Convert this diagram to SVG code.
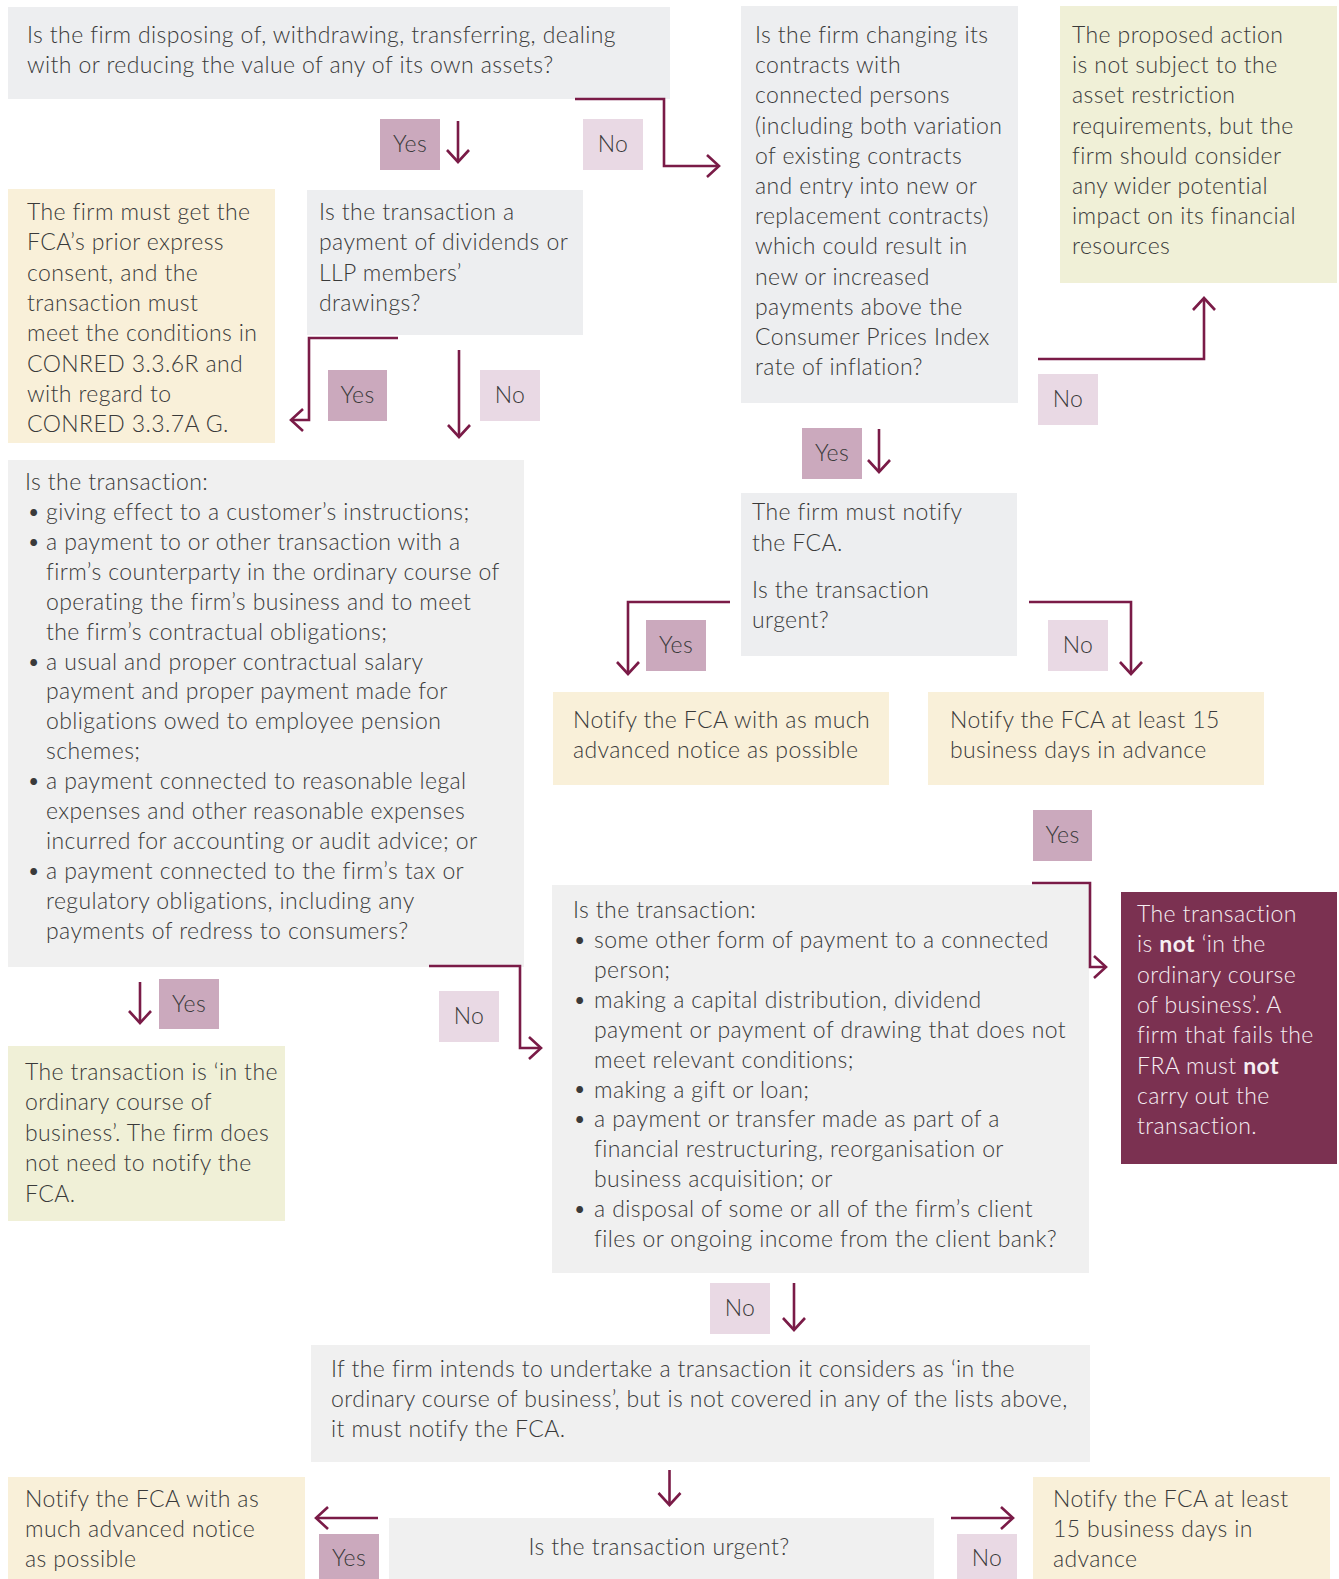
<svg xmlns="http://www.w3.org/2000/svg" width="1339" height="1579" viewBox="0 0 1339 1579">
<defs>
<marker id="ah" markerUnits="userSpaceOnUse" markerWidth="30" markerHeight="30" refX="0" refY="0" viewBox="-15 -15 30 30" orient="auto" overflow="visible">
<path d="M-12,-11 L0,0 L-12,11" fill="none" stroke="#7a1b47" stroke-width="2.6"/>
</marker>
<style>
text{font-family:Lato,"Open Sans","Liberation Sans",sans-serif;font-size:23px;letter-spacing:0.4px;fill:#3a3a3a;font-weight:300}
.g1{fill:#edeef0}.g2{fill:#f0f0f0}.yl{fill:#f9f0d9}.gr{fill:#f0f0d7}.dk{fill:#7b3151}
.yes{fill:#cba9bd}.no{fill:#e9d9e4}
.lbl{text-anchor:middle}
.w{fill:#f6eef2}
.b{font-weight:700}
#connectors path{fill:none;stroke:#7a1b47;stroke-width:2.6;marker-end:url(#ah)}
</style>
</defs>
<rect width="1339" height="1579" fill="#ffffff"/>

<g id="nodeA"><rect class="g1" x="8" y="7" width="662" height="92"/>
<text x="27" y="43">Is the firm disposing of, withdrawing, transferring, dealing<tspan x="27" dy="30">with or reducing the value of any of its own assets?</tspan></text></g>

<g id="nodeB"><rect class="yl" x="8" y="189" width="267" height="254"/>
<text x="27" y="220">The firm must get the<tspan x="27" dy="30.3">FCA’s prior express</tspan><tspan x="27" dy="30.3">consent, and the</tspan><tspan x="27" dy="30.3">transaction must</tspan><tspan x="27" dy="30.3">meet the conditions in</tspan><tspan x="27" dy="30.3">CONRED 3.3.6R and</tspan><tspan x="27" dy="30.3">with regard to</tspan><tspan x="27" dy="30.3">CONRED 3.3.7A G.</tspan></text></g>

<g id="nodeC"><rect class="g1" x="307" y="190" width="276" height="145"/>
<text x="319" y="220">Is the transaction a<tspan x="319" dy="30.3">payment of dividends or</tspan><tspan x="319" dy="30.3">LLP members’</tspan><tspan x="319" dy="30.3">drawings?</tspan></text></g>

<g id="nodeD"><rect class="g1" x="741" y="6" width="277" height="397"/>
<text x="755" y="43">Is the firm changing its<tspan x="755" dy="30.2">contracts with</tspan><tspan x="755" dy="30.2">connected persons</tspan><tspan x="755" dy="30.2">(including both variation</tspan><tspan x="755" dy="30.2">of existing contracts</tspan><tspan x="755" dy="30.2">and entry into new or</tspan><tspan x="755" dy="30.2">replacement contracts)</tspan><tspan x="755" dy="30.2">which could result in</tspan><tspan x="755" dy="30.2">new or increased</tspan><tspan x="755" dy="30.2">payments above the</tspan><tspan x="755" dy="30.2">Consumer Prices Index</tspan><tspan x="755" dy="30.2">rate of inflation?</tspan></text></g>

<g id="nodeE"><rect class="gr" x="1060" y="6" width="277" height="277"/>
<text x="1072" y="43">The proposed action<tspan x="1072" dy="30.2">is not subject to the</tspan><tspan x="1072" dy="30.2">asset restriction</tspan><tspan x="1072" dy="30.2">requirements, but the</tspan><tspan x="1072" dy="30.2">firm should consider</tspan><tspan x="1072" dy="30.2">any wider potential</tspan><tspan x="1072" dy="30.2">impact on its financial</tspan><tspan x="1072" dy="30.2">resources</tspan></text></g>

<g id="nodeF"><rect class="g1" x="741" y="493" width="276" height="163"/>
<text x="752" y="520">The firm must notify<tspan x="752" dy="31">the FCA.</tspan><tspan x="752" dy="47">Is the transaction</tspan><tspan x="752" dy="30">urgent?</tspan></text></g>

<g id="nodeG"><rect class="yl" x="553" y="692" width="336" height="93"/>
<text x="573" y="728">Notify the FCA with as much<tspan x="573" dy="30">advanced notice as possible</tspan></text></g>

<g id="nodeH"><rect class="yl" x="928" y="692" width="336" height="93"/>
<text x="950" y="728">Notify the FCA at least 15<tspan x="950" dy="30">business days in advance</tspan></text></g>

<g id="nodeK"><rect class="g2" x="8" y="460" width="516" height="507"/>
<text x="25" y="490">Is the transaction:</text>
<text x="27" y="520">•</text><text x="27" y="550">•</text><text x="27" y="669.5">•</text><text x="27" y="789">•</text><text x="27" y="878.5">•</text>
<text x="46" y="520">giving effect to a customer’s instructions;<tspan x="46" dy="29.9">a payment to or other transaction with a</tspan><tspan x="46" dy="29.9">firm’s counterparty in the ordinary course of</tspan><tspan x="46" dy="29.9">operating the firm’s business and to meet</tspan><tspan x="46" dy="29.9">the firm’s contractual obligations;</tspan><tspan x="46" dy="29.9">a usual and proper contractual salary</tspan><tspan x="46" dy="29.9">payment and proper payment made for</tspan><tspan x="46" dy="29.9">obligations owed to employee pension</tspan><tspan x="46" dy="29.9">schemes;</tspan><tspan x="46" dy="29.9">a payment connected to reasonable legal</tspan><tspan x="46" dy="29.9">expenses and other reasonable expenses</tspan><tspan x="46" dy="29.9">incurred for accounting or audit advice; or</tspan><tspan x="46" dy="29.9">a payment connected to the firm’s tax or</tspan><tspan x="46" dy="29.9">regulatory obligations, including any</tspan><tspan x="46" dy="29.9">payments of redress to consumers?</tspan></text></g>

<g id="nodeL"><rect class="gr" x="8" y="1046" width="277" height="175"/>
<text x="25" y="1080">The transaction is ‘in the<tspan x="25" dy="30.4">ordinary course of</tspan><tspan x="25" dy="30.4">business’. The firm does</tspan><tspan x="25" dy="30.4">not need to notify the</tspan><tspan x="25" dy="30.4">FCA.</tspan></text></g>

<g id="nodeI"><rect class="g2" x="552" y="885" width="537" height="388"/>
<text x="573" y="918">Is the transaction:</text>
<text x="573" y="948">•</text><text x="573" y="1008">•</text><text x="573" y="1097">•</text><text x="573" y="1127">•</text><text x="573" y="1217">•</text>
<text x="594" y="948">some other form of payment to a connected<tspan x="594" dy="29.9">person;</tspan><tspan x="594" dy="29.9">making a capital distribution, dividend</tspan><tspan x="594" dy="29.9">payment or payment of drawing that does not</tspan><tspan x="594" dy="29.9">meet relevant conditions;</tspan><tspan x="594" dy="29.9">making a gift or loan;</tspan><tspan x="594" dy="29.9">a payment or transfer made as part of a</tspan><tspan x="594" dy="29.9">financial restructuring, reorganisation or</tspan><tspan x="594" dy="29.9">business acquisition; or</tspan><tspan x="594" dy="29.9">a disposal of some or all of the firm’s client</tspan><tspan x="594" dy="29.9">files or ongoing income from the client bank?</tspan></text></g>

<g id="nodeJ"><rect class="dk" x="1121" y="892" width="216" height="272"/>
<text class="w" x="1137" y="922">The transaction<tspan x="1137" dy="30.3">is </tspan><tspan class="b">not</tspan><tspan> ‘in the</tspan><tspan x="1137" dy="30.3">ordinary course</tspan><tspan x="1137" dy="30.3">of business’. A</tspan><tspan x="1137" dy="30.3">firm that fails the</tspan><tspan x="1137" dy="30.3">FRA must </tspan><tspan class="b">not</tspan><tspan x="1137" dy="30.3">carry out the</tspan><tspan x="1137" dy="30.3">transaction.</tspan></text></g>

<g id="nodeM"><rect class="g2" x="311" y="1345" width="779" height="117"/>
<text x="331" y="1377">If the firm intends to undertake a transaction it considers as ‘in the<tspan x="331" dy="30">ordinary course of business’, but is not covered in any of the lists above,</tspan><tspan x="331" dy="30">it must notify the FCA.</tspan></text></g>

<g id="nodeN"><rect class="g2" x="389" y="1518" width="545" height="61"/>
<text class="lbl" x="659" y="1555">Is the transaction urgent?</text></g>

<g id="nodeO"><rect class="yl" x="8" y="1477" width="297" height="102"/>
<text x="25" y="1507">Notify the FCA with as<tspan x="25" dy="30">much advanced notice</tspan><tspan x="25" dy="30">as possible</tspan></text></g>

<g id="nodeP"><rect class="yl" x="1033" y="1477" width="297" height="102"/>
<text x="1053" y="1507">Notify the FCA at least<tspan x="1053" dy="30">15 business days in</tspan><tspan x="1053" dy="30">advance</tspan></text></g>

<g id="labels">
<rect class="yes" x="380" y="119" width="60" height="51"/><text class="lbl" x="410" y="152">Yes</text>
<rect class="no" x="583" y="119" width="60" height="51"/><text class="lbl" x="613" y="152">No</text>
<rect class="yes" x="328" y="370" width="59" height="51"/><text class="lbl" x="357.5" y="403">Yes</text>
<rect class="no" x="480" y="370" width="60" height="51"/><text class="lbl" x="510" y="403">No</text>
<rect class="no" x="1038" y="374" width="60" height="51"/><text class="lbl" x="1068" y="407">No</text>
<rect class="yes" x="802" y="428" width="60" height="51"/><text class="lbl" x="832" y="461">Yes</text>
<rect class="yes" x="646" y="620" width="60" height="51"/><text class="lbl" x="676" y="653">Yes</text>
<rect class="no" x="1048" y="620" width="60" height="51"/><text class="lbl" x="1078" y="653">No</text>
<rect class="yes" x="1033" y="810" width="59" height="51"/><text class="lbl" x="1062.5" y="843">Yes</text>
<rect class="yes" x="159" y="979" width="60" height="50"/><text class="lbl" x="189" y="1012">Yes</text>
<rect class="no" x="439" y="991" width="60" height="51"/><text class="lbl" x="469" y="1024">No</text>
<rect class="no" x="710" y="1283" width="60" height="51"/><text class="lbl" x="740" y="1316">No</text>
<rect class="yes" x="319" y="1534" width="60" height="45"/><text class="lbl" x="349" y="1566">Yes</text>
<rect class="no" x="957" y="1534" width="60" height="45"/><text class="lbl" x="987" y="1566">No</text>
</g>

<g id="connectors">
<path d="M575,99 H664 V166 H719"/>
<path d="M458,121 V162"/>
<path d="M398,338 H309 V420 H291"/>
<path d="M459,350 V437"/>
<path d="M1038,359 H1204 V298"/>
<path d="M879,429 V472"/>
<path d="M730,602 H628 V674"/>
<path d="M1029,602 H1131 V674"/>
<path d="M1032,883 H1090 V967 H1106"/>
<path d="M140,982 V1023"/>
<path d="M429,966 H520 V1048 H541"/>
<path d="M794,1283 V1330"/>
<path d="M669.5,1470 V1505"/>
<path d="M378,1518 H316"/>
<path d="M951,1518 H1013"/>
</g>
</svg>
